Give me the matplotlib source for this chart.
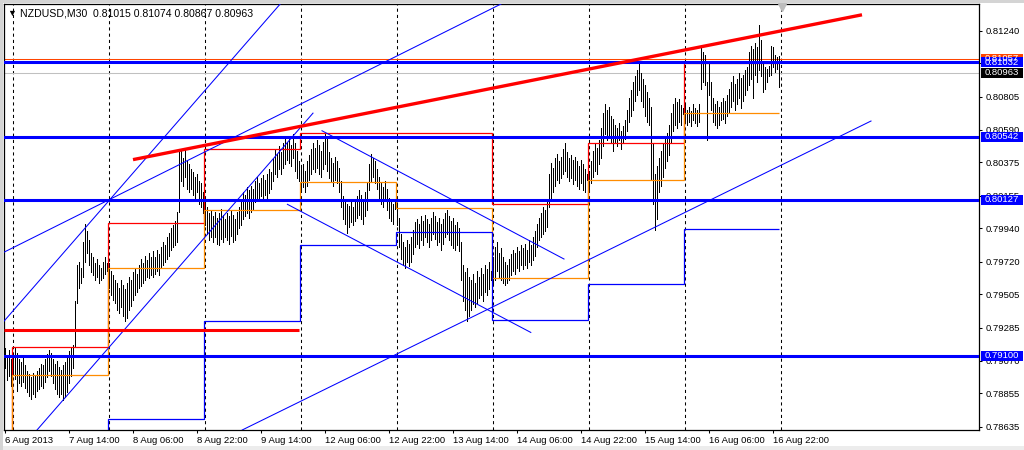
import numpy as np
import matplotlib
matplotlib.use('Agg')
import matplotlib.pyplot as plt
import matplotlib.transforms as mtransforms
from matplotlib.patches import Rectangle

plt.rcParams['font.family'] = ['Liberation Sans', 'DejaVu Sans']

# NZDUSD M30 bars, 6 Aug 22:00 .. 16 Aug 23:30 (high / low in pips)
first_bar = -4  # bar 0 = 7 Aug 00:00
highs = [
    # 6 Aug
    7915, 7910, 7914, 7908,
    # 7 Aug
    7910, 7915, 7912, 7908, 7906, 7909,
    7904, 7900, 7898, 7896, 7899, 7897, 7900, 7902, 7905, 7904,
    7908, 7911, 7914, 7912, 7908,
    7905, 7907, 7903, 7901, 7904, 7906, 7909, 7913,
    7915, 7917, 7946, 7970, 7972, 7968, 7985, 7997,
    7992, 7986, 7978, 7975, 7971, 7974, 7970, 7968, 7972, 7975, 7971,
    # 8 Aug
    7971, 7966, 7963, 7960, 7958, 7955, 7960, 7957, 7954, 7958,
    7962, 7960, 7965, 7968, 7964, 7970, 7974, 7971, 7976, 7973, 7978, 7975,
    7979, 7975, 7980, 7977, 7982, 7985, 7983, 7988, 7991, 7994, 7996, 7999, 8005,
    8045, 8046, 8040, 8046, 8038, 8036, 8033, 8031, 8028, 8030, 8025, 8024, 8018,
    # 9 Aug
    8012, 8008, 8004, 8006, 8002, 8005, 8001, 8004, 8007, 8003, 8000, 8004, 8002, 8006, 8003, 8000, 8005, 8008,
    8012, 8018, 8016, 8021, 8019, 8022, 8020, 8025, 8028, 8024, 8027, 8029, 8026, 8030, 8033, 8031,
    8040, 8046, 8043, 8048, 8044, 8050, 8053, 8051, 8054, 8049, 8056, 8050, 8045, 8038,
    # 12 Aug
    8034, 8036, 8032, 8038, 8042, 8046, 8050, 8047, 8052, 8049, 8045, 8051, 8056, 8053,
    8044, 8040, 8037, 8041, 8038, 8034, 8025, 8015, 8012, 8010, 8009, 8012, 8008, 8011, 8015,
    8019, 8016, 8013, 8018, 8024, 8036, 8043, 8040, 8038, 8033, 8028, 8024, 8021, 8025, 8020, 8014, 8012, 8010, 8013,
    # 13 Aug
    8010, 8001, 7990, 7985, 7982, 7986, 7984, 7988,
    7993, 7998, 8000, 7997, 8002, 7999, 8003, 8000, 7997, 8001, 8005, 8002,
    7998, 8001, 7997, 8000, 8004, 8006, 8002, 7999, 8001, 7996, 7998, 7994,
    7985, 7970, 7965, 7968, 7962, 7960, 7964, 7958, 7966, 7962, 7968, 7964, 7970, 7967, 7972, 7966,
    # 14 Aug
    7975, 7982, 7985, 7978, 7981, 7975, 7972, 7970, 7974, 7977, 7980,
    7978, 7982, 7979, 7983, 7981, 7984, 7980, 7986, 7983, 7988,
    7992, 7997, 8001, 8004, 8008, 8006, 8012, 8030, 8037, 8034,
    8040, 8043, 8038, 8041, 8046, 8050, 8044, 8040, 8042, 8039, 8041, 8038, 8035, 8039, 8036, 8033, 8030,
    # 15 Aug
    8032, 8038, 8045, 8050, 8047, 8052,
    8060, 8070, 8076, 8072, 8074, 8068, 8066, 8062, 8060, 8063, 8058, 8061, 8065,
    8072, 8080, 8085, 8090, 8094, 8098, 8102, 8096, 8092, 8088, 8084, 8080,
    8074, 8050, 8030, 8035, 8040, 8045, 8050, 8054, 8057, 8062, 8070, 8076, 8080, 8077, 8079, 8075, 8073,
    # 16 Aug
    8075, 8072, 8074, 8071, 8076, 8073, 8072, 8076, 8113, 8110, 8108, 8090, 8104,
    8090, 8080, 8076, 8078, 8074, 8077, 8080, 8078, 8082, 8086, 8090, 8094, 8089, 8092, 8096, 8093, 8095, 8098, 8100,
    8110, 8114, 8112, 8116, 8113, 8128, 8118, 8104, 8100, 8099, 8101, 8114, 8113, 8108, 8107, 8107.4,
]
lows = [
    # 6 Aug
    7902, 7894, 7897, 7890,
    # 7 Aug
    7898, 7895, 7887, 7892, 7890, 7893,
    7889, 7886, 7884, 7882, 7885, 7883, 7887, 7888, 7890, 7889,
    7893, 7896, 7900, 7897, 7892,
    7888, 7885, 7883, 7885, 7881, 7883, 7886, 7892,
    7897, 7902, 7916, 7945, 7955, 7958, 7962, 7972,
    7978, 7970, 7965, 7963, 7960, 7962, 7958, 7960, 7961, 7964, 7966,
    # 8 Aug
    7955, 7950, 7947, 7945, 7940, 7938, 7942, 7936, 7933, 7935,
    7940, 7943, 7947, 7950, 7952, 7955, 7956, 7958, 7960, 7962, 7961, 7963,
    7962, 7964, 7966, 7963, 7968, 7970, 7972, 7974, 7976, 7980, 7982, 7983, 7985,
    8005, 8025, 8022, 8028, 8020, 8018, 8020, 8016, 8013, 8018, 8010, 8008, 8004,
    # 9 Aug
    7996, 7990, 7986, 7988, 7985, 7988, 7984, 7983, 7987, 7985, 7988, 7986, 7984, 7989, 7985, 7986, 7990, 7994,
    7996, 8000, 8002, 8004, 8001, 8005, 8006, 8011, 8014, 8012, 8015, 8013, 8016, 8014, 8017, 8020,
    8025, 8030, 8028, 8033, 8030, 8034, 8036, 8039, 8037, 8035, 8040, 8032, 8027, 8025,
    # 12 Aug
    8019, 8021, 8018, 8022, 8026, 8030, 8033, 8031, 8034, 8030, 8028, 8033, 8036, 8032,
    8027, 8025, 8022, 8026, 8024, 8018, 8008, 8000, 7997, 7991, 7995, 7998, 7996, 7999, 8001,
    8003, 8000, 7997, 8002, 8006, 8019, 8025, 8028, 8024, 8020, 8012, 8010, 8008, 8012, 8006, 8001, 7999, 7997, 8007,
    # 13 Aug
    7996, 7982, 7974, 7970, 7968, 7972, 7969, 7972,
    7977, 7982, 7984, 7981, 7986, 7983, 7988, 7985, 7982, 7986, 7990, 7987,
    7983, 7985, 7980, 7984, 7988, 7990, 7986, 7983, 7981, 7980, 7983, 7979,
    7960, 7946, 7940, 7933, 7936, 7940, 7944, 7942, 7945, 7948, 7950, 7946, 7952, 7950, 7954, 7960,
    # 14 Aug
    7958, 7960, 7966, 7962, 7960, 7958, 7957, 7958, 7960, 7963, 7966,
    7964, 7968, 7966, 7970, 7967, 7970, 7968, 7972, 7970, 7973,
    7976, 7982, 7986, 7988, 7990, 7992, 7995, 8008, 8014, 8018,
    8022, 8026, 8024, 8027, 8030, 8032, 8028, 8025, 8027, 8023, 8026, 8022, 8020, 8024, 8019, 8018, 8026,
    # 15 Aug
    8020, 8024, 8028, 8032, 8030, 8036,
    8040, 8048, 8056, 8052, 8055, 8050, 8045, 8050, 8048, 8052, 8046, 8050, 8053,
    8058, 8064, 8068, 8072, 8078, 8082, 8085, 8078, 8074, 8068, 8064, 8062,
    8026, 8010, 7993, 8000, 8018, 8022, 8028, 8034, 8038, 8042, 8050, 8058, 8062, 8060, 8064, 8062, 8069,
    # 16 Aug
    8063, 8062, 8064, 8061, 8065, 8063, 8061, 8064, 8086, 8090, 8088, 8052, 8082,
    8072, 8064, 8062, 8060, 8062, 8065, 8066, 8063, 8068, 8070, 8074, 8078, 8072, 8076, 8080, 8073, 8078, 8082, 8085,
    8088, 8092, 8080, 8095, 8090, 8098, 8094, 8084, 8086, 8090, 8094, 8095, 8100, 8097, 8099, 8086.7,
]

# daily indicator: previous day high / close / low (pips), per day segment
day_edges = [-4.5, -0.5, 47.5, 95.5, 143.5, 191.5, 239.5, 287.5, 335.5, 383]
prev_high = [7850, 7916.1, 7997.3, 8046.0, 8056.5, 8056.5, 8010.0, 8049.9, 8102.6]
prev_close = [7845, 7897.5, 7967.7, 8006.0, 8024.2, 8007.1, 7961.1, 8025.8, 8070.0]
prev_low = [7830, 7840, 7868.3, 7933.2, 7982.8, 7991.3, 7933.6, 7957.1, 7993.3]

# horizontal objects
sr_levels = [0.81032, 0.80542, 0.80127, 0.79100]
red_level = 0.79270
red_level_span = (-4.5, 143)
ask_price = 0.81057
bid_price = 0.80963

# trendlines as (bar, price) anchor pairs
red_trend = [(60, 0.80392), (424.5, 0.81345)]
blue_trends = [
    [(-4.5, 0.79783), (244, 0.81416)],
    [(-4.5, 0.79329), (133.6, 0.81416)],
    [(12, 0.78613), (150, 0.80698)],
    [(114.6, 0.78613), (429, 0.80646)],
    [(154.5, 0.80582), (275.5, 0.79738)],
    [(137.2, 0.80098), (258.9, 0.79255)],
]

date_labels = ['6 Aug 2013', '7 Aug 14:00', '8 Aug 06:00', '8 Aug 22:00', '9 Aug 14:00',
               '12 Aug 06:00', '12 Aug 22:00', '13 Aug 14:00', '14 Aug 06:00',
               '14 Aug 22:00', '15 Aug 14:00', '16 Aug 06:00', '16 Aug 22:00']
date_bars = [-4, 28, 60, 92, 124, 156, 188, 220, 252, 284, 316, 348, 380]
day_separators = [0, 48, 96, 144, 192, 240, 288, 336, 384]
price_ticks = [0.81240, 0.81025, 0.80805, 0.80590, 0.80375, 0.80155, 0.79940,
               0.79720, 0.79505, 0.79285, 0.79070, 0.78855, 0.78635]

BLUE = '#0000ff'
RED = '#ff0000'
ORANGE = '#ff8c00'
FS = 6.8

fig = plt.figure(figsize=(10.24, 4.5), dpi=100)
ax = fig.add_axes([4/1024, 20/450, 975/1024, 426/450])

bars = np.arange(len(highs)) + first_bar
hi = np.array(highs) / 1e4
lo = np.array(lows) / 1e4

for d in day_separators:
    ax.axvline(d, color='black', lw=0.75, ls=(0, (3, 3)), zorder=1)

ax.axhline(bid_price, color='#c0c0c0', lw=0.75, zorder=1.5)
ax.axhline(ask_price, color='#ff4500', lw=0.75, zorder=1.5)

ax.vlines(bars, lo, hi, color='black', lw=0.5, antialiased=False, zorder=2)

ax.stairs(np.array(prev_high) / 1e4, day_edges, baseline=None, color=RED, lw=0.9, zorder=3)
ax.stairs(np.array(prev_close) / 1e4, day_edges, baseline=None, color=ORANGE, lw=0.9, zorder=3)
ax.stairs(np.array(prev_low) / 1e4, day_edges, baseline=None, color=BLUE, lw=0.9, zorder=3)

for line in blue_trends:
    xs, ys = zip(*line)
    ax.plot(xs, ys, color=BLUE, lw=0.75, zorder=4)

ax.hlines(red_level, *red_level_span, color=RED, lw=2.2, zorder=4)
for lvl in sr_levels:
    ax.axhline(lvl, color=BLUE, lw=2.2, zorder=5)

xs, ys = zip(*red_trend)
ax.plot(xs, ys, color=RED, lw=2.4, zorder=5, solid_capstyle='butt')

ax.set_xlim(-4.5, 483)
ax.set_ylim(0.78613, 0.81416)

ax.set_xticks(date_bars)
ax.set_xticklabels(date_labels, ha='left', fontsize=FS)
ax.yaxis.tick_right()
ax.set_yticks(price_ticks)
# 0.81025 sits under the price boxes
ax.set_yticklabels(['' if p == 0.81025 else '%.5f' % p for p in price_ticks], fontsize=FS)
ax.tick_params(axis='both', direction='out', length=2.5, width=0.75, pad=2, colors='black')
for s in ax.spines.values():
    s.set_linewidth(0.9)
    s.set_color('black')

# price labels on the right scale
lab_tf = mtransforms.blended_transform_factory(ax.transAxes, ax.transData)
box_h = 10 / 15202
for price, fc in [(ask_price, '#ff4500'), (sr_levels[0], BLUE), (bid_price, 'black'),
                  (sr_levels[1], BLUE), (sr_levels[2], BLUE), (sr_levels[3], BLUE)]:
    ax.add_patch(Rectangle((977/975, price - box_h/2), 42/975, box_h, transform=lab_tf,
                           facecolor=fc, edgecolor='none', clip_on=False, zorder=6))
    ax.text(981/975, price, '%.5f' % price, transform=lab_tf, ha='left', va='center',
            fontsize=FS, color='white', clip_on=False, zorder=7)

# chart shift marker
mark_tf = mtransforms.blended_transform_factory(ax.transData, ax.transAxes)
ax.plot([384.5], [0.992], marker='v', markersize=6, color='#bdbdbd', transform=mark_tf,
        clip_on=False, zorder=6)

# title
fig.text(12/1024, 1 - 13/450, '\u25bc', fontsize=6.5, ha='center', va='center', color='black')
fig.text(20/1024, 1 - 13/450, 'NZDUSD,M30  ' + ' '.join(['0.81015', '0.81074', '0.80867', '0.80963']),
         fontsize=7.6, ha='left', va='center', color='black')

# window frame
fig.patches.append(Rectangle((0, 0), 1, 4/450, transform=fig.transFigure, facecolor='#ececec', edgecolor='none'))
fig.patches.append(Rectangle((0, 0), 3/1024, 1, transform=fig.transFigure, facecolor='#d4d4d4', edgecolor='none'))
fig.patches.append(Rectangle((0, 1 - 3/450), 1, 3/450, transform=fig.transFigure, facecolor='#d4d4d4', edgecolor='none'))

fig.savefig('out.png', dpi=100, facecolor='white')
